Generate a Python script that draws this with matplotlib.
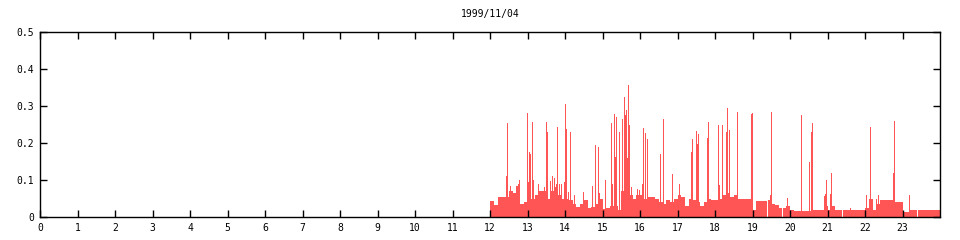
import matplotlib
matplotlib.use("Agg")
import matplotlib.pyplot as plt
import numpy as np

title = "1999/11/04"

# baseline level per 0.1-hour bin, starting at 12.0 h
base_start = 12.0
base_step = 0.1
base = [
    0.044, 0.033, 0.053, 0.053, 0.053, 0.070, 0.066, 0.085, 0.035, 0.040,   # 12
    0.060, 0.050, 0.060, 0.070, 0.070, 0.050, 0.070, 0.080, 0.060, 0.050,   # 13
    0.050, 0.045, 0.035, 0.028, 0.035, 0.045, 0.025, 0.028, 0.035, 0.050,   # 14
    0.022, 0.025, 0.030, 0.030, 0.020, 0.070, 0.070, 0.060, 0.050, 0.060,   # 15
    0.060, 0.050, 0.055, 0.055, 0.050, 0.040, 0.035, 0.045, 0.040, 0.050,   # 16
    0.060, 0.055, 0.030, 0.050, 0.045, 0.040, 0.030, 0.040, 0.050, 0.045,   # 17
    0.045, 0.050, 0.060, 0.065, 0.055, 0.060, 0.049, 0.049, 0.049, 0.049,   # 18
    0.020, 0.044, 0.044, 0.044, 0.046, 0.035, 0.032, 0.024, 0.025, 0.030,   # 19
    0.020, 0.016, 0.016, 0.016, 0.016, 0.016, 0.019, 0.019, 0.019, 0.030,   # 20
    0.019, 0.030, 0.019, 0.019, 0.019, 0.019, 0.019, 0.019, 0.019, 0.019,   # 21
    0.025, 0.050, 0.019, 0.035, 0.045, 0.046, 0.046, 0.046, 0.040, 0.040,   # 22
    0.014, 0.014, 0.019, 0.019, 0.019, 0.019, 0.019, 0.019, 0.019, 0.019,   # 23
]

# narrow peaks (hour, value)
spike_hour = [
    12.447, 12.473, 12.55, 12.75, 12.78,
    13.007, 13.03, 13.06, 13.09, 13.14, 13.17, 13.30, 13.46, 13.51, 13.54,
    13.62, 13.67, 13.73, 13.76, 13.79, 13.81, 13.84, 13.91,
    13.99, 14.02, 14.05, 14.08, 14.15, 14.26, 14.50, 14.74, 14.82, 14.90, 14.93,
    15.09, 15.25, 15.27, 15.33, 15.35, 15.38, 15.46, 15.54, 15.59, 15.62,
    15.65, 15.67, 15.70, 15.73, 15.78, 15.94, 15.99,
    16.07, 16.10, 16.15, 16.21, 16.55, 16.63, 16.87, 17.06, 17.38, 17.40,
    17.51, 17.54, 17.56, 17.80, 17.83,
    18.10, 18.12, 18.20, 18.31, 18.34, 18.39, 18.60, 18.96, 18.99, 19.47,
    19.51, 19.92, 20.31, 20.51, 20.58, 20.60, 20.91, 20.94, 20.98, 21.08,
    21.11, 21.62, 22.04, 22.15, 22.30, 22.35, 22.76, 22.79, 23.19,
]
spike_value = [
    0.110, 0.255, 0.085, 0.090, 0.100,
    0.280, 0.095, 0.175, 0.170, 0.258, 0.100, 0.090, 0.082, 0.258, 0.229,
    0.097, 0.110, 0.105, 0.088, 0.088, 0.244, 0.088, 0.088,
    0.095, 0.305, 0.238, 0.067, 0.231, 0.060, 0.067, 0.084, 0.195, 0.190, 0.064,
    0.100, 0.255, 0.090, 0.278, 0.163, 0.270, 0.231, 0.265, 0.323, 0.276,
    0.290, 0.160, 0.357, 0.250, 0.080, 0.075, 0.073,
    0.090, 0.241, 0.228, 0.210, 0.170, 0.265, 0.115, 0.090, 0.175, 0.212,
    0.233, 0.197, 0.224, 0.214, 0.258,
    0.250, 0.086, 0.248, 0.229, 0.295, 0.235, 0.284, 0.278, 0.282, 0.060,
    0.284, 0.052, 0.277, 0.150, 0.230, 0.255, 0.058, 0.063, 0.100, 0.063,
    0.120, 0.025, 0.060, 0.244, 0.050, 0.060, 0.120, 0.260, 0.060,
]

x_ticks = list(range(0, 24))
y_ticks = [0, 0.1, 0.2, 0.3, 0.4, 0.5]
y_tick_labels = ["0", "0.1", "0.2", "0.3", "0.4", "0.5"]

color = "#ff5555"
font = "DejaVu Sans Mono"

fig = plt.figure(figsize=(9.6, 2.4), dpi=100)
ax = fig.add_axes([40 / 960, 23 / 240, 900 / 960, 185 / 240])

base_x = base_start + base_step * np.arange(len(base))
ax.bar(base_x, base, width=base_step, align="edge", color=color,
       linewidth=0, antialiased=False)
ax.bar(spike_hour, spike_value, width=1 / 37.5, align="center", color=color,
       linewidth=0, antialiased=False)

ax.set_xlim(0, 24)
ax.set_ylim(0, 0.5)
ax.set_xticks(x_ticks)
ax.set_xticklabels([str(t) for t in x_ticks], fontsize=7, family=font)
ax.set_yticks(y_ticks)
ax.set_yticklabels(y_tick_labels, fontsize=7, family=font)
ax.tick_params(direction="in", length=5, width=1, top=True, right=True,
               pad=4, colors="black")
for s in ax.spines.values():
    s.set_linewidth(1)
    s.set_color("black")
ax.set_title(title, fontsize=7, family=font, pad=11)

fig.savefig("out.png", dpi=100)
